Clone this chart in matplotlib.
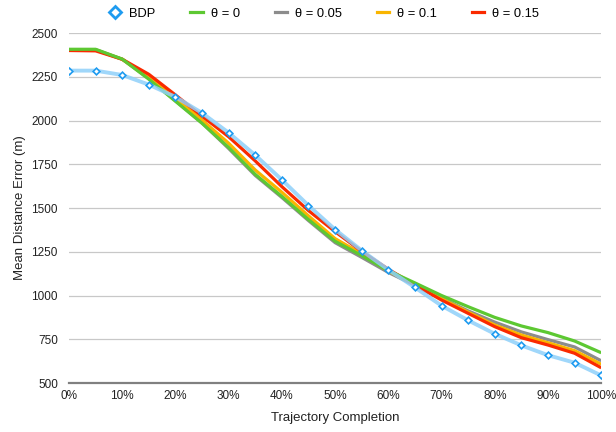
import matplotlib
matplotlib.use("Agg")
import matplotlib.pyplot as plt
from matplotlib.lines import Line2D
from matplotlib.ticker import FuncFormatter

plt.rcParams['font.family'] = ['Liberation Sans', 'DejaVu Sans']

completion = [0, 5, 10, 15, 20, 25, 30, 35, 40, 45, 50, 55, 60, 65, 70, 75, 80, 85, 90, 95, 100]
bdp = [2285, 2285, 2260, 2205, 2135, 2043, 1930, 1802, 1661, 1514, 1377, 1257, 1147, 1046, 942, 858, 781, 715, 659, 616, 543]
theta_0 = [2407, 2407, 2351, 2236, 2110, 1984, 1846, 1692, 1566, 1434, 1310, 1228, 1142, 1072, 1000, 936, 875, 826, 788, 740, 673]
theta_005 = [2405, 2405, 2350, 2240, 2113, 1986, 1840, 1686, 1560, 1428, 1302, 1218, 1132, 1058, 985, 912, 848, 792, 748, 706, 627]
theta_01 = [2405, 2403, 2350, 2246, 2127, 2003, 1870, 1717, 1590, 1455, 1325, 1238, 1140, 1062, 982, 905, 831, 774, 730, 685, 607]
theta_015 = [2400, 2398, 2350, 2264, 2146, 2025, 1907, 1769, 1622, 1485, 1365, 1252, 1150, 1060, 974, 898, 822, 759, 717, 670, 587]

labels = ['BDP', 'θ = 0', 'θ = 0.05', 'θ = 0.1', 'θ = 0.15']
c_bdp_line = '#8fd0fa'
c_bdp_mark = '#1e9bf0'
c_green = '#5dc832'
c_gray = '#8c8c8c'
c_orange = '#f9b500'
c_red = '#fa2a00'

fig = plt.figure(figsize=(6.16, 4.32), dpi=100)
ax = fig.add_axes([0.112, 0.1134, 0.864, 0.8102])

lw = 2.3
ax.plot(completion, theta_005, color=c_gray, lw=lw, zorder=3, solid_capstyle='butt')
ax.plot(completion, theta_01, color=c_orange, lw=lw, zorder=4, solid_capstyle='butt')
ax.plot(completion, theta_015, color=c_red, lw=lw, zorder=5, solid_capstyle='butt')
ax.plot(completion, theta_0, color=c_green, lw=lw, zorder=6, solid_capstyle='butt')
ax.plot(completion, bdp, color=c_bdp_line, lw=2.8, alpha=0.85, zorder=7, solid_capstyle='butt')
ax.plot(completion, bdp, linestyle='none', marker='D', markersize=3.4,
        markerfacecolor='white', markeredgecolor=c_bdp_mark, markeredgewidth=1.2, zorder=8)

ax.set_xlim(0, 100)
ax.set_ylim(500, 2500)
ax.set_xticks(range(0, 101, 10))
ax.set_yticks(range(500, 2501, 250))
ax.xaxis.set_major_formatter(FuncFormatter(lambda v, p: f"{int(v)}%"))
ax.tick_params(axis='both', length=0, labelsize=8.5, colors='#222222')
ax.tick_params(axis='x', pad=5)
ax.tick_params(axis='y', pad=8)
ax.grid(axis='y', color='#c8c8c8', lw=0.9)
ax.set_axisbelow(True)
for s in ['left', 'right', 'top']:
    ax.spines[s].set_visible(False)
ax.spines['bottom'].set_color('#808080')
ax.spines['bottom'].set_linewidth(1.6)
ax.spines['bottom'].set_zorder(2)

ax.set_xlabel('Trajectory Completion', fontsize=9.5, color='#222222', labelpad=7)
ax.set_ylabel('Mean Distance Error (m)', fontsize=9.5, color='#222222', labelpad=4)

handles = [
    Line2D([], [], linestyle='none', marker='D', markersize=6.0, markerfacecolor='white',
           markeredgecolor=c_bdp_mark, markeredgewidth=2.0),
    Line2D([], [], color=c_green, lw=2.3),
    Line2D([], [], color=c_gray, lw=2.3),
    Line2D([], [], color=c_orange, lw=2.3),
    Line2D([], [], color=c_red, lw=2.3),
]
fig.legend(handles, labels, loc='center', bbox_to_anchor=(0.526, 0.968), ncol=5,
           frameon=False, fontsize=9.3, handlelength=0.95, handletextpad=0.62,
           columnspacing=2.7, borderaxespad=0)

fig.savefig('out.png', dpi=100)
